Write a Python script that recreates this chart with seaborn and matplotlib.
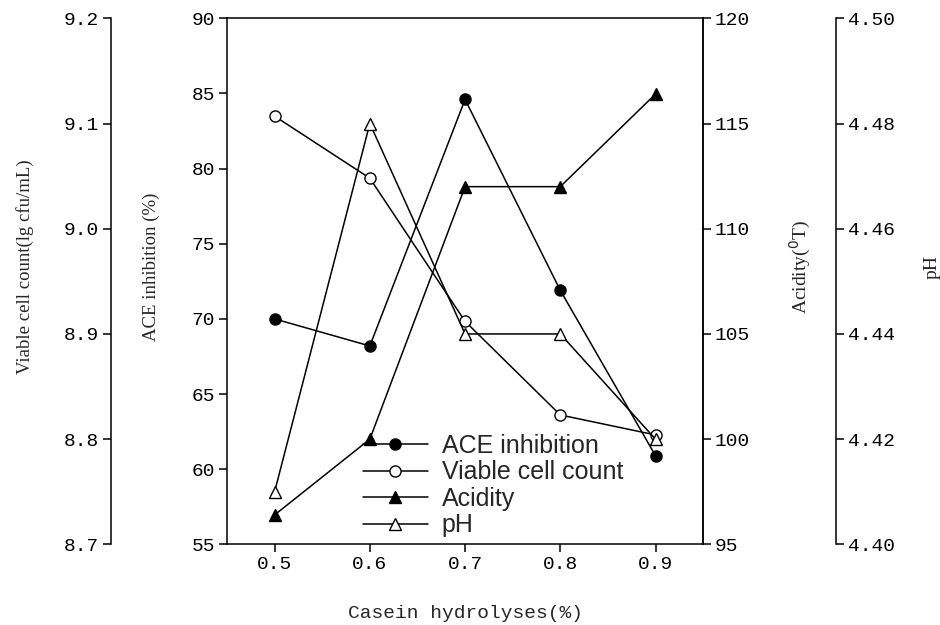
import matplotlib
matplotlib.use('Agg')
import matplotlib.pyplot as plt
from matplotlib.ticker import FormatStrFormatter, MultipleLocator
import seaborn as sns
import pandas as pd

# values
casein = [0.5, 0.6, 0.7, 0.8, 0.9]
ace_inhibition = [70.0, 68.2, 84.6, 71.9, 60.9]
viable_count = [9.107, 9.048, 8.912, 8.823, 8.804]
acidity = [96.4, 100.0, 112.0, 112.0, 116.4]
ph = [4.410, 4.480, 4.440, 4.440, 4.420]

df = pd.DataFrame({'casein': casein, 'ace': ace_inhibition, 'viable': viable_count,
                   'acidity': acidity, 'ph': ph})

sns.set_style('ticks')
TICK_FONT = 'Liberation Mono'
LABEL_FONT = 'Liberation Serif'

fig = plt.figure(figsize=(9.4, 6.25), dpi=100)
ax = fig.add_axes([0.2415, 0.129, 0.5065, 0.8417])
ax_v = ax.twinx()
ax_a = ax.twinx()
ax_p = ax.twinx()

line_kw = dict(color='black', lw=1.1, markersize=8, markeredgecolor='black', markeredgewidth=1.0)
sns.lineplot(data=df, x='casein', y='ace', ax=ax, marker='o', markerfacecolor='black',
             label='ACE inhibition', legend=False, **line_kw)
sns.lineplot(data=df, x='casein', y='viable', ax=ax_v, marker='o', markerfacecolor='white',
             label='Viable cell count', legend=False, **line_kw)
sns.lineplot(data=df, x='casein', y='acidity', ax=ax_a, marker='^', markerfacecolor='black',
             label='Acidity', legend=False, **line_kw)
sns.lineplot(data=df, x='casein', y='ph', ax=ax_p, marker='^', markerfacecolor='white',
             label='pH', legend=False, **line_kw)

ax.set_xlim(0.45, 0.95)
ax.set_ylim(55, 90)
ax_v.set_ylim(8.7, 9.2)
ax_a.set_ylim(95, 120)
ax_p.set_ylim(4.40, 4.50)

ax.xaxis.set_major_locator(MultipleLocator(0.1))
ax.xaxis.set_major_formatter(FormatStrFormatter('%.1f'))
ax.yaxis.set_major_locator(MultipleLocator(5))
ax_v.yaxis.set_major_locator(MultipleLocator(0.1))
ax_v.yaxis.set_major_formatter(FormatStrFormatter('%.1f'))
ax_a.yaxis.set_major_locator(MultipleLocator(5))
ax_p.yaxis.set_major_locator(MultipleLocator(0.02))
ax_p.yaxis.set_major_formatter(FormatStrFormatter('%.2f'))

# viable count axis on the far left
ax_v.yaxis.set_ticks_position('left')
ax_v.yaxis.set_label_position('left')
ax_v.spines['left'].set_position(('axes', -0.2437))
for s in ['right', 'top', 'bottom']:
    ax_v.spines[s].set_visible(False)
ax_v.spines['left'].set_visible(True)

for s in ['left', 'top', 'bottom']:
    ax_a.spines[s].set_visible(False)

ax_p.spines['right'].set_position(('axes', 1.279))
for s in ['left', 'top', 'bottom']:
    ax_p.spines[s].set_visible(False)

for a in [ax, ax_v, ax_a, ax_p]:
    for sp in a.spines.values():
        sp.set_color('black')
        sp.set_linewidth(1.1)
    a.tick_params(axis='both', direction='out', length=5.5, width=1.1, pad=3,
                  colors='black', labelsize=14)
    for lab in a.get_xticklabels() + a.get_yticklabels():
        lab.set_fontfamily(TICK_FONT)

ax.set_xlabel('Casein hydrolyses(%)', fontsize=14, family=TICK_FONT, labelpad=23)
ax.set_ylabel('ACE inhibition (%)', fontsize=13.5, family=LABEL_FONT, va='center')
ax.yaxis.set_label_coords(-0.158, 0.527)
ax_v.set_ylabel('Viable cell count(lg cfu/mL)', fontsize=13.5, family=LABEL_FONT, va='center')
ax_v.yaxis.set_label_coords(-0.425, 0.527)
ax_a.set_ylabel('Acidity($^{0}$T)', fontsize=14, family=LABEL_FONT, va='center')
ax_a.yaxis.set_label_coords(1.204, 0.527)
ax_p.set_ylabel('pH', fontsize=14, family=LABEL_FONT, va='center')
ax_p.yaxis.set_label_coords(1.481, 0.527)

handles = []
labels = []
for a in [ax, ax_v, ax_a, ax_p]:
    h, l = a.get_legend_handles_labels()
    handles += h
    labels += l
leg = ax_p.legend(handles, labels, loc='upper left', bbox_to_anchor=(0.386, 0.306),
                  bbox_transform=fig.transFigure, frameon=False, borderpad=0,
                  borderaxespad=0, handlelength=2.6, handletextpad=0.56,
                  labelspacing=0.1, prop={'family': 'Liberation Sans', 'size': 18})

fig.savefig('out.png', dpi=100, facecolor='white')
